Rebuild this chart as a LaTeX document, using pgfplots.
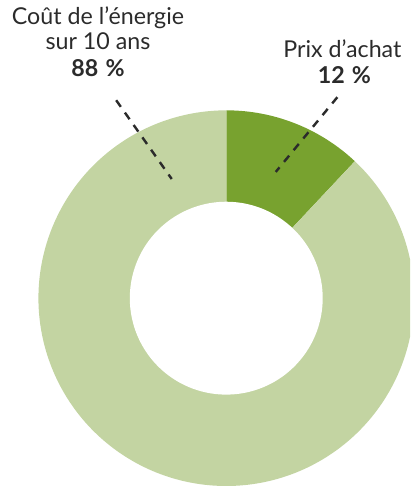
\documentclass[border=0pt]{standalone}
\usepackage{pgfplots}
\pgfplotsset{compat=1.18}
\usepackage{pgfplotstable}
\usepackage{fontspec}
\setmainfont{Lato}

\definecolor{darkgreen}{HTML}{78A22F}
\definecolor{lightgreen}{HTML}{C3D4A2}
\definecolor{txt}{HTML}{2B2B2B}

% share of each part, in percent
\pgfplotstableread{
part pct
achat 12
energie 88
}\parts

\begin{document}
\pgfplotstablegetelem{0}{pct}\of\parts
\pgfmathsetmacro{\split}{90-3.6*\pgfplotsretval}
\begin{tikzpicture}[lbl/.style={txt, anchor=base, font=\fontsize{11.5}{13}\selectfont}]
  \begin{axis}[
    scale only axis,
    width=204.5pt, height=243pt,
    xmin=-227, xmax=182,
    ymin=-186, ymax=300,
    hide axis,
    clip=true,
  ]
    % prix d'achat
    \addplot[fill=darkgreen, draw=none, domain=\split:90, samples=60]
      ({186*cos(x)}, {186*sin(x)}) -- (axis cs:0,0) -- cycle;
    % energie
    \addplot[fill=lightgreen, draw=none, domain=-270:\split, samples=240]
      ({186*cos(x)}, {186*sin(x)}) -- (axis cs:0,0) -- cycle;
    % hole
    \addplot[fill=white, draw=none, domain=0:360, samples=180]
      ({95.5*cos(x)}, {95.5*sin(x)}) -- cycle;

    \draw[txt, line width=1.2pt, dash pattern=on 4pt off 3.5pt]
      (axis cs:-109,196) -- (axis cs:-54,118);
    \draw[txt, line width=1.2pt, dash pattern=on 4pt off 3.5pt]
      (axis cs:110,199) -- (axis cs:49,125);

    \node[lbl] at (axis cs:-127,271) {Coût de l’énergie};
    \node[lbl] at (axis cs:-127,246) {sur 10 ans};
    \node[lbl, font=\fontsize{11.5}{13}\selectfont\bfseries] at (axis cs:-127,219) {88\kern0.8pt~\%};

    \node[lbl] at (axis cs:115,238) {Prix d’achat};
    \node[lbl, font=\fontsize{11.5}{13}\selectfont\bfseries] at (axis cs:117,213) {12\kern0.8pt~\%};
  \end{axis}
\end{tikzpicture}
\end{document}
